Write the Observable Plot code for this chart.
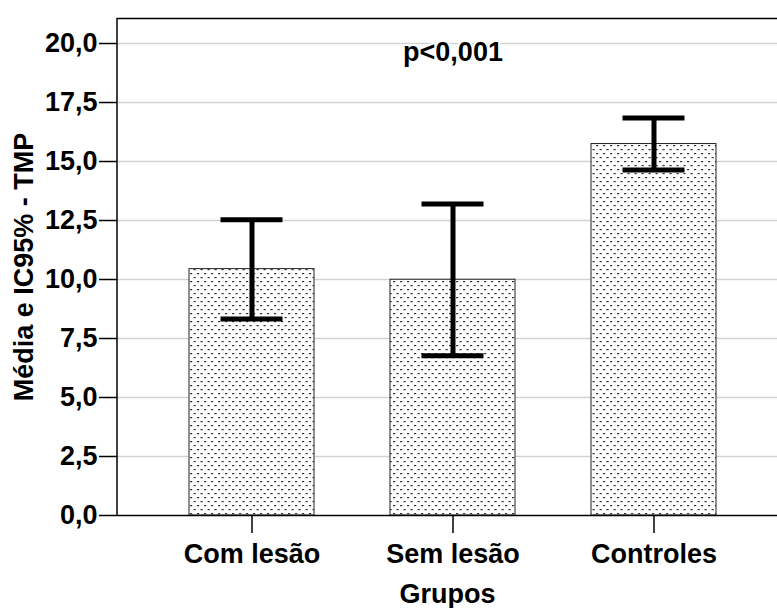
<!DOCTYPE html>
<html>
<head>
<meta charset="utf-8">
<script src="https://cdn.jsdelivr.net/npm/d3@7"></script>
<script src="https://cdn.jsdelivr.net/npm/@observablehq/plot@0.6"></script>
<style>
  html, body { margin: 0; padding: 0; background: white; overflow: hidden; }
</style>
</head>
<body>
<div id="chart"></div>
<script>
const grupos = ["Com lesão", "Sem lesão", "Controles"];
const medias = [10.44, 9.99, 15.74];
const icInferior = [8.33, 6.77, 14.64];
const icSuperior = [12.53, 13.20, 16.84];
const yTicks = [0, 2.5, 5, 7.5, 10, 12.5, 15, 17.5, 20];
const pTexto = "p<0,001";
const yLabel = "Média e IC95% - TMP";
const xLabel = "Grupos";

const data = grupos.map((g, i) => ({grupo: g, media: medias[i], lo: icInferior[i], hi: icSuperior[i]}));
const yMax = 21.06;
const fmt = d => d.toFixed(1).replace(".", ",");
const font = "'Liberation Sans', Arial, sans-serif";

const plot = Plot.plot({
  width: 777,
  height: 608,
  marginLeft: 117,
  marginRight: 0,
  marginTop: 18,
  marginBottom: 93,
  style: {fontFamily: font, fontSize: "27px", fontWeight: "bold", background: "white", color: "black", overflow: "hidden"},
  x: {domain: grupos, range: [117, 789], paddingInner: 0.376, paddingOuter: 0.3515, axis: null},
  y: {domain: [0, yMax], axis: null},
  marks: [
    Plot.gridY(yTicks.filter(d => d > 0), {stroke: "#d2d2d2", strokeOpacity: 1, strokeWidth: 1.5}),
    Plot.barY(data, {x: "grupo", y: "media", fill: "url(#dots)", stroke: "#222", strokeWidth: 1}),
    Plot.ruleX(data, {x: "grupo", y1: "lo", y2: "hi", stroke: "black", strokeWidth: 5}),
    Plot.tickY(data, {x: "grupo", y: "lo", insetLeft: 31.5, insetRight: 31.5, stroke: "black", strokeWidth: 5}),
    Plot.tickY(data, {x: "grupo", y: "hi", insetLeft: 31.5, insetRight: 31.5, stroke: "black", strokeWidth: 5}),
    Plot.ruleY([0, yMax], {stroke: "black", strokeWidth: 1.5}),
    Plot.axisY({ticks: yTicks, tickSize: 18, tickPadding: 2, tickFormat: fmt, label: null, strokeWidth: 1.5}),
    Plot.axisX({tickSize: 18, tickPadding: 10, label: null, strokeWidth: 1.5}),
    Plot.text([pTexto], {x: () => grupos[1], y: () => 19.63, text: d => d, fill: "black", stroke: "white", strokeWidth: 4}),
    Plot.text([xLabel], {frameAnchor: "bottom", text: d => d, lineAnchor: "bottom", dy: 87}),
    Plot.text([yLabel], {frameAnchor: "left", text: d => d, rotate: -90, textAnchor: "middle", dx: -93})
  ]
});

plot.insertAdjacentHTML("afterbegin",
  `<defs><pattern id="dots" patternUnits="userSpaceOnUse" width="7" height="8">
     <rect width="7" height="8" fill="white"/>
     <rect x="1" y="1" width="2.2" height="1.2" fill="#333"/>
     <rect x="4.5" y="5" width="2.2" height="1.2" fill="#333"/>
   </pattern></defs>`);

const ys = plot.scale("y");
d3.select(plot).append("line")
  .attr("x1", 117).attr("x2", 117)
  .attr("y1", ys.apply(yMax)).attr("y2", ys.apply(0))
  .attr("stroke", "black").attr("stroke-width", 1.5);

document.getElementById("chart").appendChild(plot);
</script>
</body>
</html>
